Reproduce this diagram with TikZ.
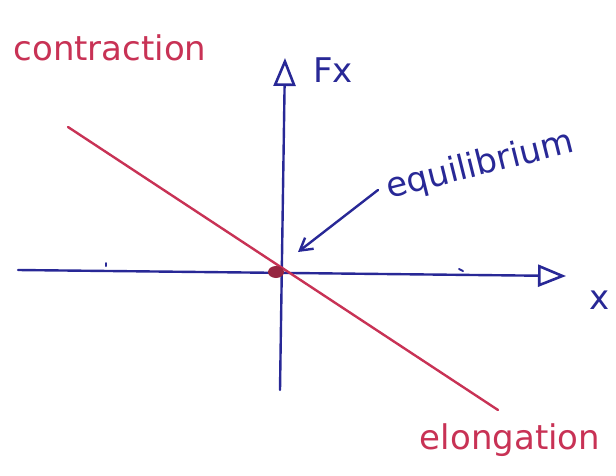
\documentclass[tikz,border=0pt]{standalone}
\usepackage{fontspec}
\setmainfont{DejaVu Sans}
\usetikzlibrary{arrows.meta,shapes.geometric}
\definecolor{penred}{RGB}{200,50,85}
\definecolor{penblue}{RGB}{40,40,150}
\tikzset{
  axis/.style={draw=penblue, line width=2.4pt, line cap=round, -{Triangle[open, length=28pt, width=22pt, line width=2.6pt]}},
  redline/.style={draw=penred, line width=2.4pt, line cap=round},
  pointer/.style={draw=penblue, line width=2.4pt, line cap=round, -{Straight Barb[length=12pt, width=14pt, line width=2.4pt]}},
  redlabel/.style={text=penred, font=\fontsize{34}{36}\selectfont, inner sep=0pt},
  bluelabel/.style={text=penblue, font=\fontsize{34}{36}\selectfont, inner sep=0pt},
}
\begin{document}
\begin{tikzpicture}[x=1pt, y=-1pt]
\useasboundingbox (0,0) rectangle (616,475);
% axes
\coordinate (xl) at (18,270);
\coordinate (xr) at (566,276);
\coordinate (yb) at (280,390);
\coordinate (yt) at (285,58);
\draw[axis] (xl) -- (xr);
\draw[axis] (yb) -- (yt);
% small ticks
\coordinate (t1) at (106,263);
\coordinate (t2) at (459,269);
\draw[penblue, line width=2pt, line cap=round] (t1) -- ++(0,3);
\draw[penblue, line width=2pt, line cap=round] (t2) -- ++(4,2);
% red line
\coordinate (ra) at (68,127);
\coordinate (rb) at (498,410);
\draw[redline] (ra) -- (rb);
% equilibrium point
\node[ellipse, fill=penred!75!black, minimum width=16pt, minimum height=12pt, inner sep=0pt] (eq) at (276,272) {};
% labels
\node[redlabel] (contr) at (110,48) {contraction};
\node[redlabel] (elong) at (510,440) {elongation};
\node[bluelabel] (fx) at (333,70) {Fx};
\node[bluelabel] (xlab) at (600,300) {x};
\node[bluelabel, rotate=14] (equil) at (480,166) {equilibrium};
% pointer arrow
\coordinate (ps) at (378,190);
\coordinate (pe) at (298,252);
\draw[pointer] (ps) -- (pe);
\end{tikzpicture}
\end{document}
